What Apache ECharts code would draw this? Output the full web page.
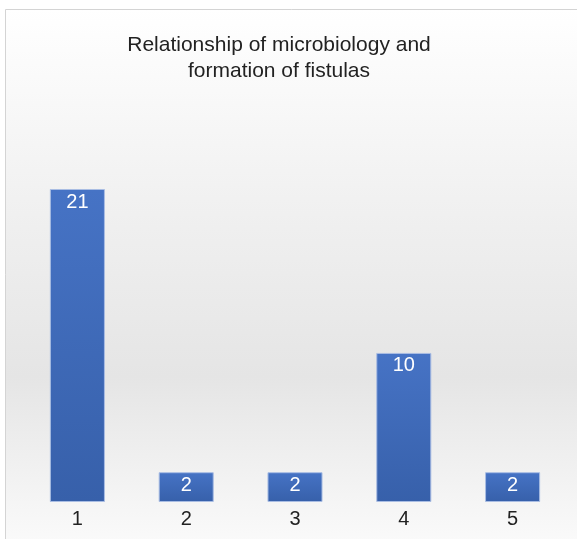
<!DOCTYPE html>
<html>
<head>
<meta charset="utf-8">
<script src="https://cdn.jsdelivr.net/npm/echarts@6/dist/echarts.min.js"></script>
<style>
  html, body { margin: 0; padding: 0; background: #fff; }
  #main { width: 577px; height: 539px; }
</style>
</head>
<body>
<div id="main"></div>
<script>
var categories = ['1', '2', '3', '4', '5'];
var values = [21, 2, 2, 10, 2];
var titleText = 'Relationship of microbiology and\nformation of fistulas';

var myChart = echarts.init(document.getElementById('main'));

var option = {
  animation: false,
  graphic: [{
    type: 'rect',
    z: -10,
    shape: { x: 5.5, y: 9.5, width: 600, height: 540 },
    style: {
      stroke: '#d4d4d4',
      lineWidth: 1,
      fill: new echarts.graphic.LinearGradient(0, 0, 0, 1, [
        { offset: 0, color: '#ffffff' },
        { offset: 0.35, color: '#f1f1f1' },
        { offset: 0.68, color: '#e5e5e5' },
        { offset: 1, color: '#fbfbfb' }
      ])
    }
  }],
  title: {
    text: titleText,
    left: 274,
    top: 27,
    textAlign: 'center',
    textStyle: {
      fontFamily: 'Liberation Sans, Arial, sans-serif',
      fontWeight: 'normal',
      fontSize: 21,
      lineHeight: 26,
      color: '#222'
    }
  },
  grid: {
    left: 23,
    right: 10,
    top: 189,
    bottom: 37,
    containLabel: false
  },
  xAxis: {
    type: 'category',
    data: categories,
    axisLine: { show: false },
    axisTick: { show: false },
    axisLabel: {
      margin: 7,
      fontFamily: 'Liberation Sans, Arial, sans-serif',
      fontSize: 20,
      color: '#222'
    }
  },
  yAxis: {
    type: 'value',
    min: 0,
    max: 21,
    show: false,
    splitLine: { show: false }
  },
  series: [{
    type: 'bar',
    data: values,
    barWidth: '50.6%',
    itemStyle: {
      color: new echarts.graphic.LinearGradient(0, 0, 0, 1, [
        { offset: 0, color: '#4673c5' },
        { offset: 1, color: '#3760aa' }
      ]),
      borderColor: '#a9bde3',
      borderWidth: 1
    },
    label: {
      show: true,
      position: 'insideTop',
      distance: 3,
      fontFamily: 'Liberation Sans, Arial, sans-serif',
      fontSize: 20,
      color: '#ffffff'
    }
  }]
};

myChart.setOption(option);
window.addEventListener('resize', function () {
  myChart.resize();
});
</script>
</body>
</html>
